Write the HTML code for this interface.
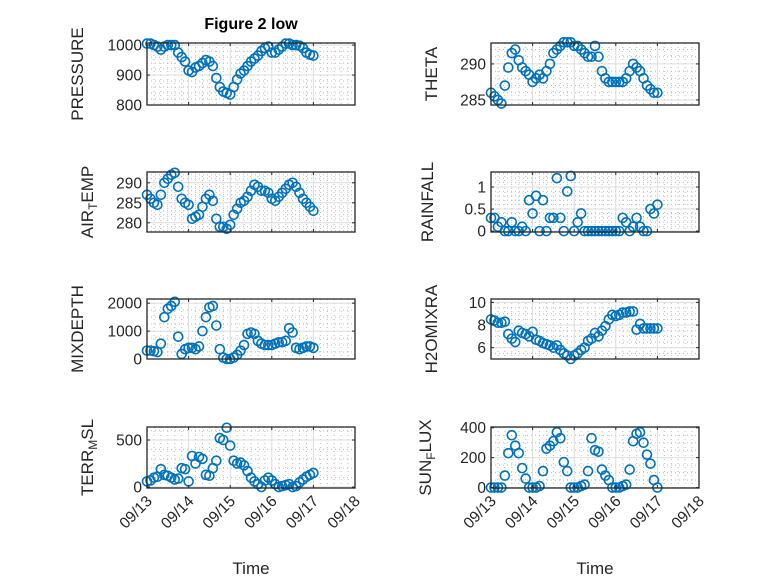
<!DOCTYPE html>
<html><head><meta charset="utf-8"><style>
html,body{margin:0;padding:0;background:#fff;}
svg{display:block;font-family:"Liberation Sans","DejaVu Sans",sans-serif;}
</style></head><body>
<svg id="fig" width="778" height="583" viewBox="0 0 778 583" xmlns="http://www.w3.org/2000/svg">
<rect width="778" height="583" fill="#fff"/>
<text x="251" y="29" text-anchor="middle" font-size="16" font-weight="bold" fill="#000">Figure 2 low</text>
</svg>
<script>
const xTickLabels = ["09/13","09/14","09/15","09/16","09/17","09/18"];
const pressure = [1005,1005,1000,995,985,995,1000,1000,1000,975,960,945,915,910,925,930,940,950,945,930,890,860,845,840,835,860,885,905,915,930,945,955,965,980,990,995,975,975,985,995,1005,1005,1000,1000,998,990,975,968,965];
const airTemp = [287,286,285,284.5,287,290,291,292,292.5,289,286,285,284.5,281,281.5,282,284,286,287,285.5,281,279,279,278.5,279.5,282,283.5,285,285.5,286.5,288,289.5,289,288,288,287.5,286,285.5,286.5,287.5,288.5,289.5,290,289,287.5,286,285,284,283];
const mixDepth = [300,300,280,250,550,1500,1800,1900,2050,800,180,350,400,400,350,450,1000,1500,1850,1900,1200,350,50,0,0,50,150,300,500,900,950,900,650,550,500,500,500,550,600,600,650,1100,950,400,350,400,450,450,400];
const terrMsl = [60,70,100,110,190,130,120,100,80,90,200,190,60,330,250,320,300,130,120,200,280,520,500,630,440,280,250,260,230,170,100,60,30,0,70,100,70,30,0,10,20,30,0,10,50,80,110,130,150];
const theta = [286,285.5,285,284.5,287,289.5,291.5,292,290.5,289.5,289,288.5,287.5,288,288.5,288,289,290,291.5,292,292.5,293,293,293,292.5,292.5,292,291.5,291,291,292.5,291,289,288,287.5,287.5,287.5,287.5,287.5,288,289,290,289.5,289,288,287,286.5,286,286];
const rainfall = [0.3,0.3,0.1,0.2,0,0,0.2,0,0,0.1,0,0.7,0.4,0.8,0,0.7,0,0.3,0.3,1.2,0.3,0,0.9,1.25,0,0.2,0.4,0,0,0,0,0,0,0,0,0,0,0,0.3,0.2,0,0.1,0.3,0.1,0,0,0.5,0.4,0.6];
const h2oMix = [8.5,8.4,8.2,8.2,8.3,7.2,6.8,6.5,7.5,7.3,7.2,7.0,7.4,6.7,6.6,6.4,6.3,6.2,6.0,6.2,5.8,5.5,5.3,5.0,5.3,5.5,5.8,6.0,6.6,6.8,7.3,7.0,7.5,7.9,8.5,8.9,8.8,8.9,9.1,9.1,9.2,9.2,7.6,8.1,7.7,7.7,7.7,7.7,7.7];
const sunFlux = [0,0,0,0,80,230,350,280,230,130,60,0,0,0,10,110,260,280,310,370,330,170,110,0,0,0,10,20,110,330,250,240,120,80,50,0,0,0,10,20,120,310,360,370,300,220,160,50,0];
const pressureTicks=[800,900,1000], airTicks=[280,285,290], mixTicks=[0,1000,2000], terrTicks=[0,500];
const thetaTicks=[285,290], rainTicks=[0,0.5,1], h2oTicks=[6,8,10], sunTicks=[0,200,400];

const NS="http://www.w3.org/2000/svg";
const svg=document.getElementById('fig');
function el(tag,attrs,parent){const e=document.createElementNS(NS,tag);for(const k in attrs)e.setAttribute(k,attrs[k]);(parent||svg).appendChild(e);return e;}
const BLUE="#0072BD";
function panel(name,x0,x1,y0,y1,ymin,ymax,ticks,minorStep,data,label,showX){
  const g=el('g',{});
  
  
  const xs=d=>x0+(x1-x0)*d/5;
  const ys=v=>y1-(y1-y0)*(v-ymin)/(ymax-ymin);
  el('rect',{x:x0,y:y0,width:x1-x0,height:y1-y0,fill:'#fff'},g);
  for(let d=0;d<5;d+=1/6){if(Math.abs(d-Math.round(d))<1e-6)continue;el('line',{x1:xs(d),x2:xs(d),y1:y0,y2:y1,stroke:'#bbb','stroke-width':1,'stroke-dasharray':'1,3'},g);}
  for(let v=Math.ceil(ymin/minorStep)*minorStep;v<ymax;v+=minorStep){if(ticks.some(t=>Math.abs(t-v)<1e-9))continue;el('line',{x1:x0,x2:x1,y1:ys(v),y2:ys(v),stroke:'#bbb','stroke-width':1,'stroke-dasharray':'1,3'},g);}
  for(let d=1;d<5;d++)el('line',{x1:xs(d),x2:xs(d),y1:y0,y2:y1,stroke:'#dcdcdc','stroke-width':1},g);
  ticks.forEach(t=>el('line',{x1:x0,x2:x1,y1:ys(t),y2:ys(t),stroke:'#dcdcdc','stroke-width':1},g));
  data.forEach((v,i)=>{
    const c=el('circle',{cx:xs(i/12),cy:ys(v),r:4.5,fill:'none',stroke:BLUE,'stroke-width':1.6},g);
    
    
  });
  el('rect',{x:x0,y:y0,width:x1-x0,height:y1-y0,fill:'none',stroke:'#262626','stroke-width':1.3},g);
  for(let d=0;d<=5;d++){el('line',{x1:xs(d),x2:xs(d),y1:y1,y2:y1-3,stroke:'#262626'},g);el('line',{x1:xs(d),x2:xs(d),y1:y0,y2:y0+3,stroke:'#262626'},g);}
  ticks.forEach(t=>{
    el('line',{x1:x0,x2:x0+3,y1:ys(t),y2:ys(t),stroke:'#262626'},g);
    el('line',{x1:x1,x2:x1-3,y1:ys(t),y2:ys(t),stroke:'#262626'},g);
    const tx=el('text',{x:x0-5,y:ys(t)+5.5,'text-anchor':'end','font-size':15.5,fill:'#262626'},g);
    tx.textContent=String(t);
    
    
  });
  if(showX){
    xTickLabels.forEach((l,d)=>{
      const px=xs(d)+6, py=y1+14;
      const tx=el('text',{x:px,y:py,'text-anchor':'end','font-size':15.5,fill:'#262626',transform:`rotate(-45 ${px} ${py})`},g);
      tx.textContent=l;
      
      
    });
    const tt=el('text',{x:(x0+x1)/2,y:574,'text-anchor':'middle','font-size':17,fill:'#262626'},g);
    tt.textContent='Time';
    
    
  }
  const lx=x0-(label.off), ly=(y0+y1)/2;
  const yl=el('text',{x:lx,y:ly,'text-anchor':'middle','font-size':17,fill:'#262626',transform:`rotate(-90 ${lx} ${ly})`},g);
  
  
  label.parts.forEach(p=>{
    const ts=el('tspan',{},yl);
    if(p.sub){ts.setAttribute('baseline-shift','-30%');ts.setAttribute('font-size','12');}
    ts.textContent=p.t;
  });
}
const L0=147,L1=355,R0=491,R1=699;
panel('pressure',L0,L1,43,105,800,1007,pressureTicks,20,pressure,{off:64,parts:[{t:'PRESSURE'}]},false);
panel('air-temp',L0,L1,172,232,277.7,292.7,airTicks,1,airTemp,{off:54,parts:[{t:'AIR'},{t:'T',sub:1},{t:'EMP'}]},false);
panel('mixdepth',L0,L1,299,359,0,2150,mixTicks,250,mixDepth,{off:64,parts:[{t:'MIXDEPTH'}]},false);
panel('terr-msl',L0,L1,427,488,-10,638,terrTicks,100,terrMsl,{off:54,parts:[{t:'TERR'},{t:'M',sub:1},{t:'SL'}]},true);
panel('theta',R0,R1,43,105,284.3,292.9,thetaTicks,1,theta,{off:54,parts:[{t:'THETA'}]},false);
panel('rainfall',R0,R1,172,232,-0.02,1.34,rainTicks,0.1,rainfall,{off:58,parts:[{t:'RAINFALL'}]},false);
panel('h2omixra',R0,R1,299,359,5.0,10.3,h2oTicks,0.5,h2oMix,{off:54,parts:[{t:'H2OMIXRA'}]},false);
panel('sun-flux',R0,R1,427,488,-3,405,sunTicks,50,sunFlux,{off:60,parts:[{t:'SUN'},{t:'F',sub:1},{t:'LUX'}]},true);
</script>
</body></html>
